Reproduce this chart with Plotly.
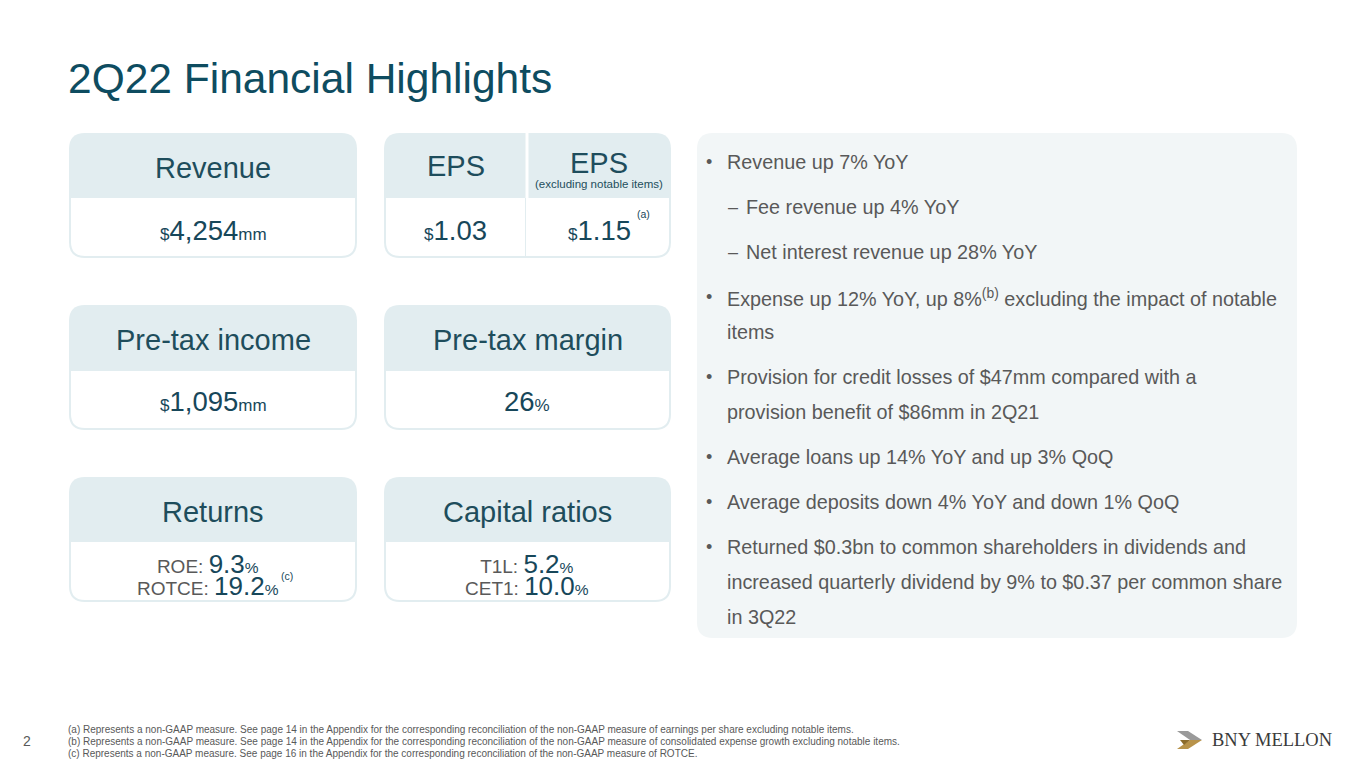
"""2Q22 Financial Highlights slide - card layout rebuilt with plotly shapes + annotations."""
import plotly.graph_objects as go

W, H = 1365, 768
OFF = 8  # page body margin, so data coords == screen pixels
FONT = "Liberation Sans, Arial, sans-serif"
TITLE_C, HEAD_C, VAL_C, GRAY = "#0E4C60", "#1E4D5C", "#17475A", "#595959"
HEAD_BG, PANEL_BG = "#E2EDF0", "#F2F6F7"

# ---- data ----
TITLE = "2Q22 Financial Highlights"
CARD_TITLES = ["Revenue", "EPS", "Pre-tax income", "Pre-tax margin", "Returns", "Capital ratios"]
REVENUE_MM = 4254
EPS = 1.03
EPS_ADJ = 1.15
PRETAX_MM = 1095
PRETAX_MARGIN = 26
RETURN_LABELS = ["ROE", "ROTCE"]
RETURN_VALUES = [9.3, 19.2]
CAPITAL_LABELS = ["T1L", "CET1"]
CAPITAL_VALUES = [5.2, 10.0]

# bullets: (marker, wrapped lines)
BULLETS = [
    ("•", ["Revenue up 7% YoY"]),
    ("–", ["Fee revenue up 4% YoY"]),
    ("–", ["Net interest revenue up 28% YoY"]),
    ("•", ["Expense up 12% YoY, up 8%<sup>(b)</sup> excluding the impact of notable", "items"]),
    ("•", ["Provision for credit losses of $47mm compared with a", "provision benefit of $86mm in 2Q21"]),
    ("•", ["Average loans up 14% YoY and up 3% QoQ"]),
    ("•", ["Average deposits down 4% YoY and down 1% QoQ"]),
    ("•", ["Returned $0.3bn to common shareholders in dividends and",
           "increased quarterly dividend by 9% to $0.37 per common share", "in 3Q22"]),
]
FOOTNOTES = [
    "(a) Represents a non-GAAP measure. See page 14 in the Appendix for the corresponding reconciliation of the non-GAAP measure of earnings per share excluding notable items.",
    "(b) Represents a non-GAAP measure. See page 14 in the Appendix for the corresponding reconciliation of the non-GAAP measure of consolidated expense growth excluding notable items.",
    "(c) Represents a non-GAAP measure. See page 16 in the Appendix for the corresponding reconciliation of the non-GAAP measure of ROTCE.",
]
PAGE_NO = "2"


def rrect(x0, y0, x1, y1, r, top=True, bottom=True):
    """rounded rect path (y grows downward), Q curves since plotly has no arcs"""
    rt = r if top else 0
    rb = r if bottom else 0
    return (f"M{x0+rt},{y0} L{x1-rt},{y0} Q{x1},{y0} {x1},{y0+rt} "
            f"L{x1},{y1-rb} Q{x1},{y1} {x1-rb},{y1} L{x0+rb},{y1} "
            f"Q{x0},{y1} {x0},{y1-rb} L{x0},{y0+rt} Q{x0},{y0} {x0+rt},{y0} Z")


def sp(txt, size, color=None):
    st = f"font-size:{size}px"
    if color:
        st += f";fill:{color}"
    return f'<span style="{st}">{txt}</span>'


shapes, ann = [], []


def txt(x, y, s, size, color, xa="center", ya="middle", family=FONT):
    ann.append(dict(x=x, y=y, text=s, showarrow=False, xanchor=xa, yanchor=ya, borderpad=0,
                    font=dict(size=size, color=color, family=family), xref="x", yref="y"))


def card(x0, y0, x1, y1, ymid):
    shapes.append(dict(type="path", path=rrect(x0, y0, x1, y1, 16), fillcolor=HEAD_BG,
                       line=dict(width=0), layer="below"))
    shapes.append(dict(type="path", path=rrect(x0 + 2, ymid, x1 - 2, y1 - 2, 14, top=False),
                       fillcolor="white", line=dict(width=0), layer="below"))


# right panel
shapes.append(dict(type="path", path=rrect(697, 133, 1297, 638, 16), fillcolor=PANEL_BG,
                   line=dict(width=0), layer="below"))

COLS = [(69, 357), (384, 671)]
ROWS = [(133, 258, 198), (305, 430, 371), (477, 602, 542)]
HEAD_FS = 29
for i, t in enumerate(CARD_TITLES):
    (x0, x1), (y0, y1, ym) = COLS[i % 2], ROWS[i // 2]
    card(x0, y0, x1, y1, ym)
    if t == "EPS":
        continue
    txt((x0 + x1) / 2, (y0 + ym) / 2 + 2, t, HEAD_FS, HEAD_C)

# EPS split card
ex0, ex1 = COLS[1]
xs = 527
shapes.append(dict(type="line", x0=xs, x1=xs, y0=133, y1=256, line=dict(color="white", width=3)))
shapes.append(dict(type="line", x0=xs - 1.5, x1=xs - 1.5, y0=198, y1=256, line=dict(color=HEAD_BG, width=1)))
txt((ex0 + xs) / 2, 166, "EPS", HEAD_FS, HEAD_C)
txt((xs + ex1) / 2, 163, "EPS", HEAD_FS, HEAD_C)
txt((xs + ex1) / 2, 184, "(excluding notable items)", 11.5, HEAD_C)

BIG, SMALL = 27.5, 17
txt(213, 230, sp("$", SMALL) + f"{REVENUE_MM:,}" + sp("mm", SMALL), BIG, VAL_C)
txt((ex0 + xs) / 2, 230, sp("$", SMALL) + f"{EPS:.2f}", BIG, VAL_C)
txt((xs + ex1) / 2, 230, sp("$", SMALL) + f"{EPS_ADJ:.2f}", BIG, VAL_C)
txt(643, 214, "(a)", 10.5, VAL_C)
txt(213, 401, sp("$", SMALL) + f"{PRETAX_MM:,}" + sp("mm", SMALL), BIG, VAL_C)
txt(527, 401, f"{PRETAX_MARGIN}" + sp("%", SMALL), BIG, VAL_C)

# two-line blocks: base font 17 keeps line pitch ~22px, spans enlarge the glyphs
LAB_FS, VAL_FS, PCT_FS = 19, 26, 15.5


def pair_block(cx, labels, values):
    lines = [sp(f"{lab}: ", LAB_FS, GRAY) + sp(f"{v:.1f}", VAL_FS) + sp("%", PCT_FS)
             for lab, v in zip(labels, values)]
    txt(cx, 575, "<br>".join(lines), 17, VAL_C)


pair_block(208, RETURN_LABELS, RETURN_VALUES)
pair_block(527, CAPITAL_LABELS, CAPITAL_VALUES)
txt(287, 576, "(c)", 10.5, VAL_C)

# bullets
y = 162
for mk, lines in BULLETS:
    if mk == "•":
        mx, tx = 709, 726
    else:
        mx, tx = 733, 745
    txt(mx, y, mk, 18, GRAY)
    for ln in lines:
        txt(tx, y, ln, 19.8, GRAY, xa="left")
        y += 35
    y += 10

# title, footnotes, page
txt(67, 78, TITLE, 42.5, TITLE_C, xa="left")
for k, f in enumerate(FOOTNOTES):
    txt(67, 729 + 12 * k, f, 10, GRAY, xa="left")
txt(27, 741, PAGE_NO, 14, GRAY)

# logo
shapes.append(dict(type="path", path="M1177,731 L1188,731 L1202,740 L1190,740 Z",
                   fillcolor="#9A9A9A", line=dict(width=0)))
shapes.append(dict(type="path", path="M1190,740 L1202,740 L1188,749 L1177,749 Z",
                   fillcolor="#B8934A", line=dict(width=0)))
shapes.append(dict(type="path", path="M1180,740 L1190,740 L1184,745 Z",
                   fillcolor="#8C6B2A", line=dict(width=0)))
txt(1211, 740, "BNY MELLON", 18.5, "#3A3A3A", xa="left", family="Liberation Serif, serif")

fig = go.Figure()
fig.update_layout(
    width=W, height=H, margin=dict(l=0, r=0, t=0, b=0),
    paper_bgcolor="white", plot_bgcolor="white",
    xaxis=dict(range=[OFF, W + OFF], visible=False, fixedrange=True),
    yaxis=dict(range=[H + OFF, OFF], visible=False, fixedrange=True),
    shapes=shapes, annotations=ann, showlegend=False,
)
fig.write_html("out.html")
